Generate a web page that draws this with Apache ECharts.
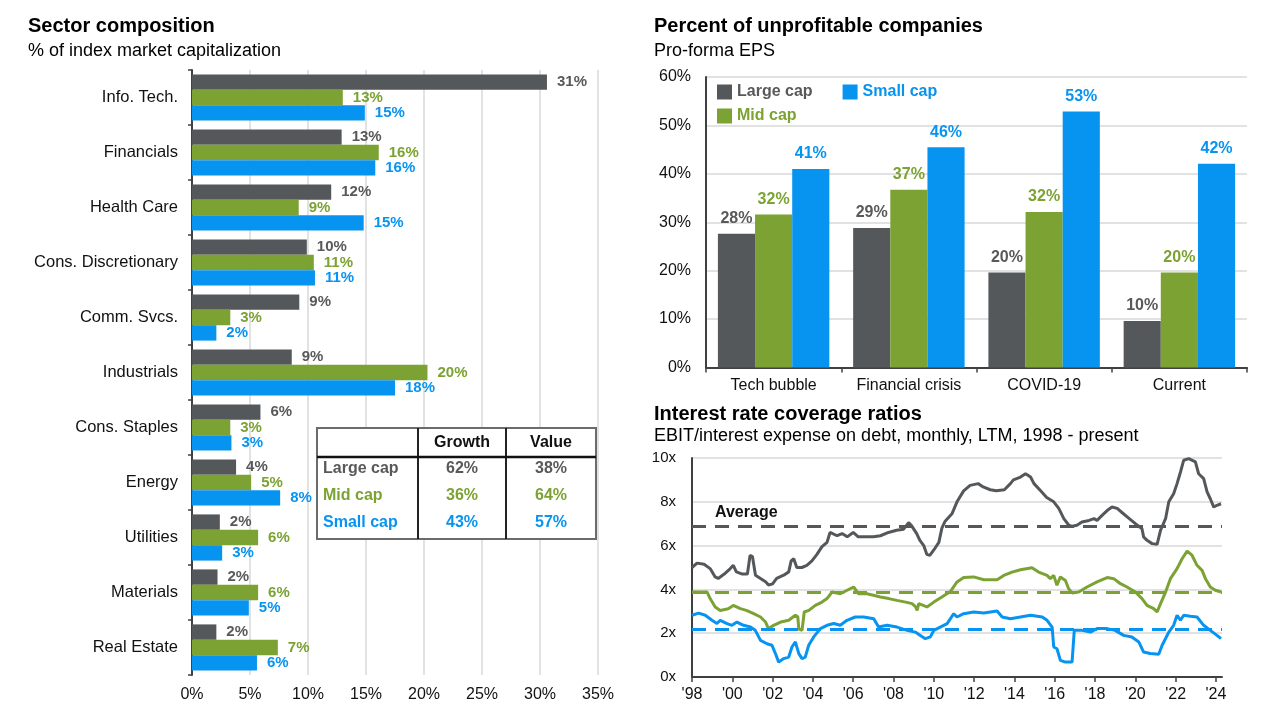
<!DOCTYPE html>
<html>
<head>
<meta charset="utf-8">
<script src="https://cdn.jsdelivr.net/npm/echarts@6/dist/echarts.min.js"></script>
<style>
html,body{margin:0;padding:0;background:#fff;}
#c{width:1280px;height:720px;}
</style>
</head>
<body>
<div id="c"></div>
<script>
// ---------- Data ----------
const sectors = ['Info. Tech.','Financials','Health Care','Cons. Discretionary','Comm. Svcs.','Industrials','Cons. Staples','Energy','Utilities','Materials','Real Estate'];
const sectorLarge = [30.6, 12.9, 12.0, 9.9, 9.25, 8.6, 5.9, 3.8, 2.4, 2.2, 2.1];
const sectorMid   = [13.0, 16.1, 9.2, 10.5, 3.3, 20.3, 3.3, 5.1, 5.7, 5.7, 7.4];
const sectorSmall = [14.9, 15.8, 14.8, 10.6, 2.1, 17.5, 3.4, 7.6, 2.6, 4.9, 5.6];
const sectorTicks = [0, 5, 10, 15, 20, 25, 30, 35];

const tableRows = ['Large cap', 'Mid cap', 'Small cap'];
const tableCols = ['Growth', 'Value'];
const growthShare = [62, 36, 43];
const valueShare = [38, 64, 57];

const periods = ['Tech bubble', 'Financial crisis', 'COVID-19', 'Current'];
const unprofLarge = [27.6, 28.8, 19.6, 9.6];
const unprofMid   = [31.6, 36.7, 32.1, 19.6];
const unprofSmall = [41.0, 45.5, 52.9, 42.1];

const yearTicks = [1998,2000,2002,2004,2006,2008,2010,2012,2014,2016,2018,2020,2022,2024];
const largeCapCoverage = [[1998.0,5.0],[1998.25,5.2],[1998.6,5.15],[1998.9,4.95],[1999.15,4.57],[1999.3,4.5],[1999.6,4.7],[1999.9,4.95],[2000.05,5.1],[2000.2,4.8],[2000.5,4.7],[2000.75,4.7],[2000.88,5.55],[2001.0,5.5],[2001.15,4.65],[2001.4,4.5],[2001.65,4.35],[2001.8,4.2],[2002.0,4.25],[2002.2,4.5],[2002.55,4.65],[2002.8,4.8],[2002.92,5.3],[2003.05,5.4],[2003.2,5.0],[2003.45,5.0],[2003.7,5.1],[2003.95,5.3],[2004.2,5.6],[2004.45,5.95],[2004.7,6.15],[2004.85,6.6],[2005.2,6.45],[2005.45,6.55],[2005.7,6.4],[2006.0,6.6],[2006.25,6.4],[2006.6,6.4],[2007.0,6.4],[2007.35,6.45],[2007.75,6.6],[2008.15,6.7],[2008.5,6.75],[2008.75,7.05],[2008.9,6.9],[2009.15,6.55],[2009.3,6.25],[2009.5,6.0],[2009.65,5.6],[2009.8,5.55],[2010.0,5.8],[2010.25,6.15],[2010.4,6.8],[2010.55,7.1],[2010.9,7.45],[2011.15,8.0],[2011.48,8.5],[2011.8,8.75],[2012.2,8.83],[2012.45,8.68],[2012.8,8.55],[2013.1,8.5],[2013.5,8.55],[2013.8,8.83],[2013.95,9.0],[2014.3,9.13],[2014.55,9.28],[2014.8,9.13],[2014.97,8.83],[2015.3,8.5],[2015.6,8.2],[2015.95,8.0],[2016.2,7.7],[2016.45,7.23],[2016.7,6.93],[2016.87,6.88],[2017.1,6.93],[2017.35,7.08],[2017.7,7.15],[2017.95,7.23],[2018.1,7.15],[2018.35,7.38],[2018.6,7.6],[2018.84,7.76],[2019.1,7.7],[2019.35,7.5],[2019.7,7.23],[2020.0,7.0],[2020.33,6.77],[2020.41,6.4],[2020.58,6.24],[2020.83,6.09],[2021.08,6.06],[2021.25,6.7],[2021.5,7.23],[2021.66,8.0],[2021.9,8.37],[2022.07,8.83],[2022.24,9.36],[2022.4,9.9],[2022.65,9.97],[2022.98,9.82],[2023.14,9.28],[2023.39,9.06],[2023.56,8.45],[2023.72,8.14],[2023.89,7.76],[2024.05,7.84],[2024.25,7.91]];
const midCapCoverage = [[1998.0,3.88],[1998.75,3.88],[1998.9,3.58],[1999.15,3.2],[1999.4,3.04],[1999.8,3.12],[2000.05,3.27],[2000.4,3.12],[2000.7,3.04],[2001.06,2.89],[2001.4,2.74],[2001.65,2.51],[2001.8,2.2],[2002.05,2.36],[2002.4,2.51],[2002.8,2.59],[2003.13,2.82],[2003.25,2.75],[2003.3,2.2],[2003.46,2.13],[2003.52,2.13],[2003.57,2.97],[2003.8,3.04],[2004.12,3.27],[2004.45,3.42],[2004.7,3.58],[2004.95,3.88],[2005.36,3.8],[2005.7,3.96],[2006.02,4.11],[2006.27,3.8],[2006.68,3.8],[2007.0,3.73],[2007.35,3.65],[2007.76,3.58],[2008.17,3.5],[2008.6,3.42],[2008.92,3.35],[2009.1,3.2],[2009.17,3.04],[2009.25,3.35],[2009.33,3.42],[2009.66,3.2],[2010.0,3.42],[2010.4,3.65],[2010.82,3.9],[2011.15,4.34],[2011.48,4.54],[2011.98,4.57],[2012.48,4.44],[2013.14,4.44],[2013.47,4.64],[2013.88,4.79],[2014.3,4.9],[2014.87,4.99],[2015.2,4.79],[2015.62,4.64],[2015.78,4.49],[2015.95,4.64],[2016.11,4.19],[2016.28,4.57],[2016.53,4.41],[2016.69,4.03],[2016.86,3.84],[2017.19,3.88],[2017.6,4.11],[2018.1,4.34],[2018.6,4.54],[2018.93,4.49],[2019.26,4.26],[2019.59,4.11],[2020.0,3.88],[2020.33,3.58],[2020.58,3.27],[2020.91,3.12],[2021.08,2.97],[2021.25,3.35],[2021.5,3.88],[2021.74,4.49],[2022.07,4.95],[2022.32,5.4],[2022.57,5.75],[2022.81,5.56],[2023.06,5.1],[2023.31,4.87],[2023.48,4.49],[2023.72,4.11],[2023.97,3.96],[2024.25,3.88]];
const smallCapCoverage = [[1998.0,2.82],[1998.33,2.92],[1998.66,2.82],[1998.99,2.59],[1999.24,2.44],[1999.4,2.59],[1999.74,2.44],[1999.98,2.36],[2000.23,2.51],[2000.56,2.36],[2000.9,2.28],[2001.14,2.13],[2001.4,1.67],[2001.72,1.52],[2001.97,1.45],[2002.14,1.07],[2002.3,0.68],[2002.55,0.84],[2002.8,0.91],[2002.96,1.37],[2003.13,1.6],[2003.3,1.07],[2003.46,0.84],[2003.62,0.91],[2003.79,1.45],[2004.04,1.83],[2004.37,2.21],[2004.7,2.36],[2005.03,2.44],[2005.36,2.36],[2005.69,2.59],[2006.1,2.74],[2006.52,2.74],[2007.02,2.66],[2007.26,2.28],[2007.68,2.36],[2008.17,2.28],[2008.67,2.13],[2009.08,2.05],[2009.33,1.9],[2009.58,1.75],[2009.83,1.83],[2010.0,2.13],[2010.32,2.28],[2010.66,2.44],[2010.99,2.89],[2011.15,2.74],[2011.48,2.89],[2011.98,2.97],[2012.48,2.92],[2013.14,3.01],[2013.39,2.74],[2013.8,2.66],[2014.3,2.74],[2014.8,2.82],[2015.38,2.74],[2015.62,2.59],[2015.87,2.28],[2015.95,1.37],[2016.11,1.29],[2016.28,0.76],[2016.53,0.68],[2016.86,0.68],[2016.97,2.13],[2017.35,2.13],[2017.77,2.05],[2018.1,2.21],[2018.6,2.21],[2019.0,2.13],[2019.42,1.9],[2019.83,1.83],[2020.17,1.6],[2020.41,1.14],[2020.74,1.07],[2021.16,1.04],[2021.33,1.45],[2021.66,2.05],[2021.9,2.36],[2022.07,2.82],[2022.24,2.59],[2022.4,2.82],[2022.73,2.77],[2023.06,2.74],[2023.39,2.36],[2023.72,2.13],[2024.05,1.9],[2024.25,1.75]];
const coverageAverage = [6.88, 3.85, 2.2];

// ---------- Styles ----------
const FONT = "'Liberation Sans', Arial, sans-serif";
const GRAY = '#55585b', GREEN = '#7ba232', BLUE = '#0794f0';
const GRAY_TXT = '#595959';
const AXIS = '#404040', GRID = '#d9d9d9', TXT = '#111';

const pct = p => Math.round(p.value) + '%';

function hBar(name, data, color, txtColor) {
  return {
    name, type: 'bar', xAxisIndex: 0, yAxisIndex: 0, data,
    barGap: '0%', barCategoryGap: '16%',
    itemStyle: { color },
    label: { show: true, position: 'right', distance: 10, formatter: pct,
             fontSize: 15, fontWeight: 'bold', color: txtColor, fontFamily: FONT },
    emphasis: { disabled: true }
  };
}
function vBar(name, data, color, txtColor) {
  return {
    name, type: 'bar', xAxisIndex: 1, yAxisIndex: 1, data,
    barGap: '0%', barCategoryGap: '17.6%',
    itemStyle: { color },
    label: { show: true, position: 'top', distance: 7, formatter: pct,
             fontSize: 16, fontWeight: 'bold', color: txtColor, fontFamily: FONT },
    emphasis: { disabled: true }
  };
}
function line(name, data, color, avg, showAvgLabel) {
  return {
    name, type: 'line', xAxisIndex: 2, yAxisIndex: 2, data,
    showSymbol: false, symbol: 'none',
    lineStyle: { color, width: 3 }, itemStyle: { color },
    emphasis: { disabled: true },
    markLine: {
      silent: true, symbol: 'none',
      lineStyle: { color, width: 3, type: [14, 9] },
      label: showAvgLabel ? { show: true, position: 'insideStartTop', formatter: 'Average',
               distance: [23, 6], color: TXT, fontSize: 16, fontWeight: 'bold', fontFamily: FONT }
             : { show: false },
      data: [{ yAxis: avg }]
    }
  };
}

// table graphic from arrays
const tableX = 317, tableY = 428, tableW = 279, tableH = 111;
const colX = [418, 506];
const colCenters = [462, 551];
const rowY = [469, 496, 522.5];
const rowColors = [GRAY_TXT, GREEN, BLUE];
const tableEls = [
  { type: 'rect', shape: { x: tableX, y: tableY, width: tableW, height: tableH },
    style: { fill: '#fff', stroke: '#6b6b6b', lineWidth: 2 } },
  { type: 'line', shape: { x1: colX[0], y1: tableY, x2: colX[0], y2: tableY + tableH }, style: { stroke: '#222', lineWidth: 2 } },
  { type: 'line', shape: { x1: colX[1], y1: tableY, x2: colX[1], y2: tableY + tableH }, style: { stroke: '#222', lineWidth: 2 } },
  { type: 'line', shape: { x1: tableX, y1: 457, x2: tableX + tableW, y2: 457 }, style: { stroke: '#111', lineWidth: 2.5 } }
];
tableCols.forEach((c, i) => tableEls.push({ type: 'text', x: colCenters[i], y: 443,
  style: { text: c, fill: '#111', font: 'bold 16px ' + FONT, align: 'center', verticalAlign: 'middle' } }));
tableRows.forEach((r, i) => {
  tableEls.push({ type: 'text', x: 323, y: rowY[i],
    style: { text: r, fill: rowColors[i], font: 'bold 16px ' + FONT, align: 'left', verticalAlign: 'middle' } });
  tableEls.push({ type: 'text', x: colCenters[0], y: rowY[i],
    style: { text: growthShare[i] + '%', fill: rowColors[i], font: 'bold 16px ' + FONT, align: 'center', verticalAlign: 'middle' } });
  tableEls.push({ type: 'text', x: colCenters[1], y: rowY[i],
    style: { text: valueShare[i] + '%', fill: rowColors[i], font: 'bold 16px ' + FONT, align: 'center', verticalAlign: 'middle' } });
});

const titleBase = (text, subtext, left, top, gap) => ({
  text, subtext, left, top, padding: 0, itemGap: gap,
  textStyle: { fontSize: 20, fontWeight: 'bold', color: '#000', fontFamily: FONT },
  subtextStyle: { fontSize: 18, color: '#000', fontFamily: FONT }
});

const legendBase = (top, items) => ({
  left: 717, top, padding: 0, itemWidth: 15, itemHeight: 15, itemGap: 30, icon: 'rect',
  selectedMode: false, orient: 'horizontal',
  textStyle: { fontSize: 16, fontWeight: 'bold', fontFamily: FONT },
  data: items
});

const option = {
  animation: false,
  backgroundColor: '#fff',
  textStyle: { fontFamily: FONT },
  title: [
    titleBase('Sector composition', '% of index market capitalization', 28, 16, 6),
    titleBase('Percent of unprofitable companies', 'Pro-forma EPS', 654, 16, 6),
    titleBase('Interest rate coverage ratios', 'EBIT/interest expense on debt, monthly, LTM, 1998 - present', 654, 404, 3)
  ],
  legend: [
    legendBase(84, [{ name: 'Large cap', textStyle: { color: GRAY_TXT } }, { name: 'Small cap', textStyle: { color: BLUE } }]),
    legendBase(108, [{ name: 'Mid cap', textStyle: { color: GREEN } }])
  ],
  grid: [
    { left: 192, top: 70, width: 406, height: 605, containLabel: false, outerBoundsMode: 'none' },
    { left: 706, top: 77, width: 541, height: 290.5, containLabel: false, outerBoundsMode: 'none' },
    { left: 692, top: 458, width: 530, height: 219, containLabel: false, outerBoundsMode: 'none' }
  ],
  xAxis: [
    { type: 'value', gridIndex: 0, min: sectorTicks[0], max: sectorTicks[sectorTicks.length - 1], interval: 5,
      axisLine: { show: false }, axisTick: { show: false },
      axisLabel: { formatter: '{value}%', fontSize: 16, color: TXT, margin: 12 },
      splitLine: { show: true, lineStyle: { color: GRID, width: 1.5 } } },
    { type: 'category', gridIndex: 1, data: periods,
      axisLine: { show: true, lineStyle: { color: AXIS, width: 2 } },
      axisTick: { show: true, length: 5, interval: 0, lineStyle: { color: AXIS, width: 1.5 } },
      axisLabel: { interval: 0, fontSize: 16, color: TXT, margin: 10, hideOverlap: false } },
    { type: 'value', gridIndex: 2, min: 1998, max: 2024.3, interval: 2,
      axisLine: { show: true, lineStyle: { color: AXIS, width: 2 } },
      axisTick: { show: true, length: 5, customValues: yearTicks, lineStyle: { color: AXIS, width: 1.5 } },
      axisLabel: { customValues: yearTicks, fontSize: 16, color: TXT, margin: 10,
                   formatter: v => "'" + String(Math.round(v)).slice(2) },
      splitLine: { show: false } }
  ],
  yAxis: [
    { type: 'category', gridIndex: 0, data: sectors, inverse: true,
      axisLine: { show: true, lineStyle: { color: AXIS, width: 2 } },
      axisTick: { show: true, length: 4, lineStyle: { color: AXIS, width: 1.5 } },
      axisLabel: { interval: 0, fontSize: 16.5, color: TXT, margin: 14 } },
    { type: 'value', gridIndex: 1, min: 0, max: 60, interval: 10,
      axisLine: { show: true, lineStyle: { color: AXIS, width: 2 } }, axisTick: { show: false },
      axisLabel: { formatter: '{value}%', fontSize: 16, color: TXT, margin: 15 },
      splitLine: { show: true, lineStyle: { color: GRID, width: 1.5 } } },
    { type: 'value', gridIndex: 2, min: 0, max: 10, interval: 2,
      axisLine: { show: true, lineStyle: { color: AXIS, width: 2 } }, axisTick: { show: false },
      axisLabel: { formatter: '{value}x', fontSize: 15, color: TXT, margin: 16 },
      splitLine: { show: true, lineStyle: { color: GRID, width: 1.5 } } }
  ],
  series: [
    hBar('Large cap', sectorLarge, GRAY, GRAY_TXT),
    hBar('Mid cap', sectorMid, GREEN, GREEN),
    hBar('Small cap', sectorSmall, BLUE, BLUE),
    vBar('Large cap', unprofLarge, GRAY, GRAY_TXT),
    vBar('Mid cap', unprofMid, GREEN, GREEN),
    vBar('Small cap', unprofSmall, BLUE, BLUE),
    line('Large cap', largeCapCoverage, GRAY, coverageAverage[0], true),
    line('Mid cap', midCapCoverage, GREEN, coverageAverage[1], false),
    line('Small cap', smallCapCoverage, BLUE, coverageAverage[2], false)
  ],
  graphic: { elements: tableEls.map(e => Object.assign({ z: 100 }, e)) }
};

const chart = echarts.init(document.getElementById('c'), null, { renderer: 'canvas', width: 1280, height: 720 });
chart.setOption(option);
</script>
</body>
</html>
